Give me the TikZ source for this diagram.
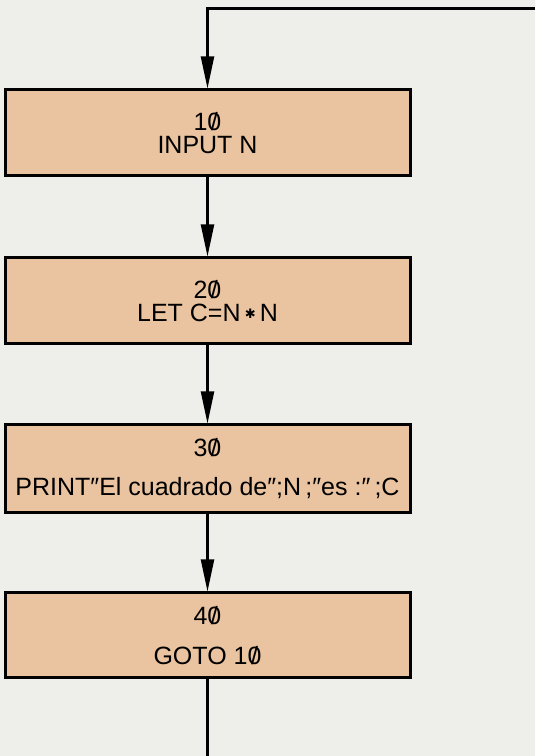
\documentclass[tikz,border=0pt]{standalone}
\usepackage{fontspec}
\setmainfont{Liberation Sans}
\newfontfamily\dejavu{DejaVu Sans}
\usetikzlibrary{arrows.meta}
\definecolor{pagebg}{RGB}{238,238,234}
\definecolor{boxfill}{RGB}{234,196,160}
\newcommand{\zs}{\ooalign{0\cr\hidewidth/\hidewidth\cr}}
\newcommand{\dq}{″}
\newcommand{\mulstar}{\,\raisebox{0.22ex}{\dejavu\fontsize{13}{13}\selectfont ✱}\,}
\begin{document}
\begin{tikzpicture}[x=1pt,y=1pt,
  stepbox/.style={draw=black, line width=3pt, fill=boxfill,
    minimum width=405pt, minimum height=86pt, align=center,
    font=\fontsize{25}{23}\selectfont, inner sep=0pt},
  flow/.style={line width=2.2pt, -{Triangle[length=32pt,width=13pt]}},
  plainline/.style={line width=2.2pt}]
\fill[pagebg] (0,0) rectangle (535,756);
\useasboundingbox (0,0) rectangle (535,756);
\node[stepbox] (b10) at (207.5,623) {1\zs\\INPUT N};
\node[stepbox] (b20) at (207.5,455) {2\zs\\LET C=N\mulstar N};
\node[stepbox, minimum height=88pt] (b30) at (207.5,287) {3\zs\\[16pt]PRINT\dq El cuadrado de\dq;N\,;\dq es :\dq\,;C};
\node[stepbox, minimum height=85pt] (b40) at (207.5,120.5) {4\zs\\[17pt]GOTO 1\zs};
\coordinate (loopin) at (535,747.5);
\coordinate (loopout) at (207.5,0);
\draw[flow] (loopin) -| (b10.north);
\draw[flow] (b10.south) -- (b20.north);
\draw[flow] (b20.south) -- (b30.north);
\draw[flow] (b30.south) -- (b40.north);
\draw[plainline] (b40.south) -- (loopout);
\end{tikzpicture}
\end{document}
